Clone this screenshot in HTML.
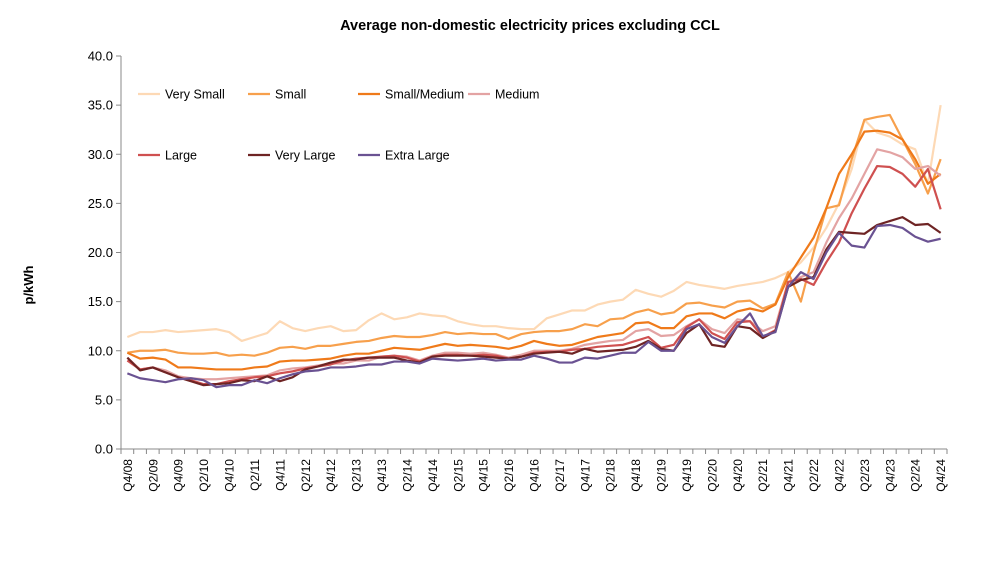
<!DOCTYPE html>
<html><head><meta charset="utf-8"><style>
body{margin:0;background:#fff;font-family:"Liberation Sans",Arial,sans-serif}
svg text{font-family:"Liberation Sans",Arial,sans-serif}
</style></head><body>
<svg id="chart" width="986" height="558" xmlns="http://www.w3.org/2000/svg">
<text x="530" y="30" text-anchor="middle" font-size="14.5" font-weight="bold">Average non-domestic electricity prices excluding CCL</text>
<text transform="translate(33,285) rotate(-90)" text-anchor="middle" font-size="13" font-weight="bold">p/kWh</text>
<g id="axes"></g><g id="series"></g><g id="legend"></g>
</svg>
<script>
const yTicks=[0,5,10,15,20,25,30,35,40];
const years=[];for(let y=8;y<=24;y++)years.push(y);
const categories=[];for(const y of years){if(y===8){categories.push('Q4/08');continue;}for(let q=1;q<=4;q++){categories.push('Q'+q+'/'+String(y).padStart(2,'0'));}}
const seriesNames=['Very Small','Small','Small/Medium','Medium','Large','Very Large','Extra Large'];
const verySmall=[11.4,11.9,11.9,12.1,11.9,12.0,12.1,12.2,11.9,11.0,11.4,11.8,13.0,12.3,12.0,12.3,12.5,12.0,12.1,13.1,13.8,13.2,13.4,13.8,13.6,13.5,13.0,12.7,12.5,12.5,12.3,12.2,12.2,13.3,13.7,14.1,14.1,14.7,15.0,15.2,16.2,15.8,15.5,16.1,17.0,16.7,16.5,16.3,16.6,16.8,17.0,17.4,18.0,19.0,20.5,22.5,25.0,28.5,33.5,32.2,31.8,31.0,30.5,27.0,35.0];
const small=[9.8,10.0,10.0,10.1,9.8,9.7,9.7,9.8,9.5,9.6,9.5,9.8,10.3,10.4,10.2,10.5,10.5,10.7,10.9,11.0,11.3,11.5,11.4,11.4,11.6,11.9,11.7,11.8,11.7,11.7,11.2,11.7,11.9,12.0,12.0,12.2,12.7,12.5,13.2,13.3,13.9,14.2,13.7,13.9,14.8,14.9,14.6,14.4,15.0,15.1,14.3,14.8,18.0,15.0,20.0,24.5,24.8,29.5,33.5,33.8,34.0,31.5,29.0,26.0,29.5];
const smallMedium=[9.8,9.2,9.3,9.1,8.3,8.3,8.2,8.1,8.1,8.1,8.3,8.4,8.9,9.0,9.0,9.1,9.2,9.5,9.7,9.7,10.0,10.3,10.2,10.1,10.4,10.7,10.5,10.6,10.5,10.4,10.2,10.5,11.0,10.7,10.5,10.6,11.0,11.4,11.6,11.8,12.8,12.9,12.3,12.3,13.5,13.8,13.8,13.3,14.0,14.3,14.0,14.7,17.5,19.5,21.5,24.5,28.0,30.0,32.3,32.4,32.2,31.5,29.5,27.0,28.0];
const medium=[9.3,8.1,8.3,8.0,7.4,7.2,7.1,7.1,7.2,7.3,7.4,7.5,8.0,8.2,8.3,8.5,8.7,8.7,9.0,9.0,9.4,9.5,9.4,9.0,9.5,9.8,9.8,9.7,9.8,9.6,9.3,9.6,10.0,10.0,10.0,10.2,10.6,10.8,11.0,11.1,12.0,12.2,11.5,11.6,12.5,13.2,12.2,11.8,13.2,13.0,12.0,12.5,17.0,17.5,18.0,21.0,23.5,25.5,28.0,30.5,30.2,29.7,28.5,28.8,27.8];
const large=[9.0,8.1,8.3,7.8,7.3,7.0,6.6,6.6,6.9,7.1,7.3,7.4,7.7,7.9,8.2,8.4,8.6,9.0,9.2,9.3,9.4,9.5,9.3,8.9,9.4,9.6,9.6,9.5,9.6,9.5,9.2,9.4,9.8,9.9,9.9,10.1,10.2,10.4,10.5,10.6,11.0,11.4,10.3,10.6,12.4,13.2,11.8,11.2,12.9,13.0,11.4,12.1,17.0,17.3,16.7,19.0,21.0,24.0,26.5,28.8,28.7,28.0,26.7,28.5,24.4];
const veryLarge=[9.3,8.0,8.3,7.8,7.3,6.9,6.5,6.6,6.7,7.0,6.9,7.4,6.9,7.3,8.1,8.4,8.8,9.1,9.1,9.3,9.3,9.3,9.0,8.8,9.4,9.5,9.5,9.5,9.4,9.3,9.2,9.4,9.7,9.8,9.9,9.7,10.2,9.9,10.0,10.1,10.4,11.0,10.2,10.0,11.8,12.7,10.6,10.4,12.5,12.3,11.3,12.0,16.5,17.2,17.5,20.3,22.1,22.0,21.9,22.8,23.2,23.6,22.8,22.9,22.0];
const extraLarge=[7.7,7.2,7.0,6.8,7.1,7.2,7.0,6.3,6.5,6.5,7.0,6.7,7.2,7.6,7.9,8.0,8.3,8.3,8.4,8.6,8.6,8.9,8.9,8.7,9.2,9.1,9.0,9.1,9.2,9.0,9.1,9.1,9.5,9.2,8.8,8.8,9.3,9.2,9.5,9.8,9.8,10.9,10.0,10.0,12.2,12.7,11.4,10.8,12.5,13.8,11.5,11.9,16.5,18.0,17.3,20.0,22.0,20.7,20.5,22.7,22.8,22.5,21.6,21.1,21.4];
const seriesValues=[verySmall,small,smallMedium,medium,large,veryLarge,extraLarge];
const colors=['#fdd9b5','#f7a04c','#ef7a1a','#e3a3a3','#cf5050','#6e2424','#6a5292'];
const NS='http://www.w3.org/2000/svg';
const X0=121,X1=947,Y0=449,Y40=56;
const bw=(X1-X0)/categories.length;
const x=i=>X0+bw*(i+0.5);
const y=v=>Y0-(v/40)*(Y0-Y40);
function mk(t,a,p){const e=document.createElementNS(NS,t);for(const k in a)e.setAttribute(k,a[k]);p.appendChild(e);return e;}
const ax=document.getElementById('axes');
const ya=mk('line',{x1:X0,y1:Y40,x2:X0,y2:Y0,stroke:'#888','stroke-width':1},ax);


const xa=mk('line',{x1:X0,y1:Y0,x2:X1,y2:Y0,stroke:'#888','stroke-width':1},ax);


yTicks.forEach(v=>{
 mk('line',{x1:X0-5,y1:y(v),x2:X0,y2:y(v),stroke:'#888'},ax);
 const t=mk('text',{x:X0-8,y:y(v)+4.5,'text-anchor':'end','font-size':13},ax);
 
 
 t.textContent=v.toFixed(1);
});
for(let i=0;i<=categories.length;i++){mk('line',{x1:X0+bw*i,y1:Y0,x2:X0+bw*i,y2:Y0+5,stroke:'#888'},ax);}
categories.forEach((c,i)=>{if(i%2)return;
 const t=mk('text',{transform:`translate(${x(i)+4.5},${Y0+10}) rotate(-90)`,'text-anchor':'end','font-size':12},ax);
 
 
 t.textContent=c;});
const sg=document.getElementById('series');
seriesValues.forEach((vals,k)=>{
 const p=mk('polyline',{points:vals.map((v,i)=>x(i)+','+y(v)).join(' '),fill:'none',stroke:colors[k],'stroke-width':2.2,'stroke-linejoin':'round'},sg);
 
 
});
const lg=document.getElementById('legend');
const lpos=[[138,94],[248,94],[358,94],[468,94],[138,155],[248,155],[358,155]];
seriesNames.forEach((n,k)=>{
 const g=mk('g',{},lg);
 
 
 const [lx,ly]=lpos[k];
 mk('line',{x1:lx,y1:ly,x2:lx+22,y2:ly,stroke:colors[k],'stroke-width':2.2},g);
 const t=mk('text',{x:lx+27,y:ly+4.5,'font-size':12.5},g);
 t.textContent=n;
});
</script>
</body></html>
